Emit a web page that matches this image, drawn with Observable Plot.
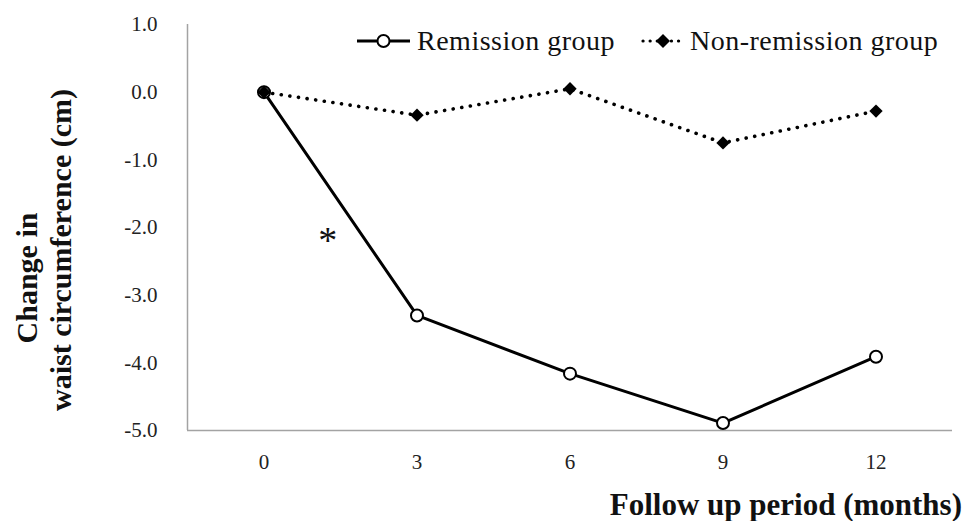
<!DOCTYPE html>
<html>
<head>
<meta charset="utf-8">
<script src="https://cdn.jsdelivr.net/npm/d3@7"></script>
<script src="https://cdn.jsdelivr.net/npm/@observablehq/plot@0.6"></script>
<style>
  html, body { margin: 0; padding: 0; background: #fff; }
  #wrap { position: relative; width: 977px; height: 521px; font-family: "Liberation Serif", serif; color: #111; }
  #wrap svg, #wrap svg text { font-family: "Liberation Serif", serif !important; }
  .abs { position: absolute; white-space: nowrap; font-family: "Liberation Serif", serif; }
  .ytitle { font-weight: bold; font-size: 30px; line-height: 30px; transform: translate(-50%, -50%) rotate(-90deg); }
  .xtitle { font-weight: bold; font-size: 31px; line-height: 31px; }
  .leg { font-size: 28px; line-height: 28px; letter-spacing: 0.5px; }
</style>
</head>
<body>
<div id="wrap"></div>
<script>
// ---- data ----
const months = [0, 3, 6, 9, 12];
const remission = [0.0, -3.30, -4.16, -4.89, -3.91];
const nonRemission = [0.0, -0.34, 0.05, -0.75, -0.28];
const yTicks = [1, 0, -1, -2, -3, -4, -5];
const xTicks = [0, 3, 6, 9, 12];
const xDomain = [-1.5, 13.5];
const yDomain = [-5, 1];
const seriesNames = ["Remission group", "Non-remission group"];
const annotationX = [1.25];
const annotationY = [-2.2];
const annotationText = ["*"];

const remData = months.map((m, i) => ({month: m, value: remission[i]}));
const nonData = months.map((m, i) => ({month: m, value: nonRemission[i]}));
const annData = annotationX.map((x, i) => ({x, y: annotationY[i], t: annotationText[i]}));

const chart = Plot.plot({
  width: 977,
  height: 521,
  marginLeft: 187,
  marginRight: 25,
  marginTop: 24,
  marginBottom: 91,
  style: {background: "white", fontFamily: "'Liberation Serif', serif", fontSize: "21px", color: "#222"},
  x: {domain: xDomain, type: "linear"},
  y: {domain: yDomain},
  marks: [
    Plot.axisY({ticks: yTicks, tickSize: 0, tickPadding: 30, tickFormat: d => d.toFixed(1), label: null, fontSize: 21}),
    Plot.axisX({ticks: xTicks, tickSize: 0, tickPadding: 24, tickFormat: d => String(d), label: null, fontSize: 21}),
    Plot.ruleX([xDomain[0]], {stroke: "#a3a3a3", strokeWidth: 1.5}),
    Plot.ruleY([yDomain[0]], {stroke: "#a3a3a3", strokeWidth: 1.5}),
    Plot.line(remData, {x: "month", y: "value", stroke: "#000", strokeWidth: 3}),
    Plot.line(nonData, {x: "month", y: "value", stroke: "#000", strokeWidth: 3.6, strokeDasharray: "0.1 8.6", strokeLinecap: "round"}),
    Plot.dot(remData, {x: "month", y: "value", r: 6, fill: "white", stroke: "#000", strokeWidth: 2}),
    Plot.dot(nonData, {x: "month", y: "value", symbol: "diamond2", r: 6, fill: "#000", stroke: "none"}),
    Plot.text(annData, {x: "x", y: "y", text: "t", fontSize: 38, fill: "#111"})
  ]
});

const wrap = document.getElementById("wrap");
wrap.appendChild(chart);

function addDiv(cls, text, styleObj) {
  const d = document.createElement("div");
  d.className = "abs " + cls;
  d.textContent = text;
  Object.assign(d.style, styleObj);
  wrap.appendChild(d);
  return d;
}

// y-axis title (two lines)
addDiv("ytitle", "Change in", {left: "27px", top: "278px"});
addDiv("ytitle", "waist circumference  (cm)", {left: "61px", top: "250px"});
// x-axis title
addDiv("xtitle", "Follow up period  (months)", {right: "15px", top: "489px"});

// legend
const ns = "http://www.w3.org/2000/svg";
function swatch(left, w, kind) {
  const s = document.createElementNS(ns, "svg");
  s.setAttribute("width", w); s.setAttribute("height", 20);
  s.style.position = "absolute"; s.style.left = left + "px"; s.style.top = "31px";
  const ln = document.createElementNS(ns, "line");
  ln.setAttribute("x1", 2); ln.setAttribute("x2", w - 2); ln.setAttribute("y1", 10); ln.setAttribute("y2", 10);
  ln.setAttribute("stroke", "#000");
  if (kind === "circle") {
    ln.setAttribute("stroke-width", 3);
    s.appendChild(ln);
    const c = document.createElementNS(ns, "circle");
    c.setAttribute("cx", w / 2); c.setAttribute("cy", 10); c.setAttribute("r", 6);
    c.setAttribute("fill", "#fff"); c.setAttribute("stroke", "#000"); c.setAttribute("stroke-width", 2);
    s.appendChild(c);
  } else {
    ln.setAttribute("stroke-width", 3.2);
    ln.setAttribute("stroke-dasharray", "0.1 7");
    ln.setAttribute("stroke-linecap", "round");
    s.appendChild(ln);
    const p = document.createElementNS(ns, "path");
    const cx = w / 2;
    p.setAttribute("d", `M${cx},3L${cx + 7},10L${cx},17L${cx - 7},10Z`);
    p.setAttribute("fill", "#000");
    s.appendChild(p);
  }
  wrap.appendChild(s);
}
swatch(355, 57, "circle");
addDiv("leg", seriesNames[0], {left: "417px", top: "27px"});
swatch(641, 44, "diamond");
addDiv("leg", seriesNames[1], {left: "690px", top: "27px"});
</script>
</body>
</html>
